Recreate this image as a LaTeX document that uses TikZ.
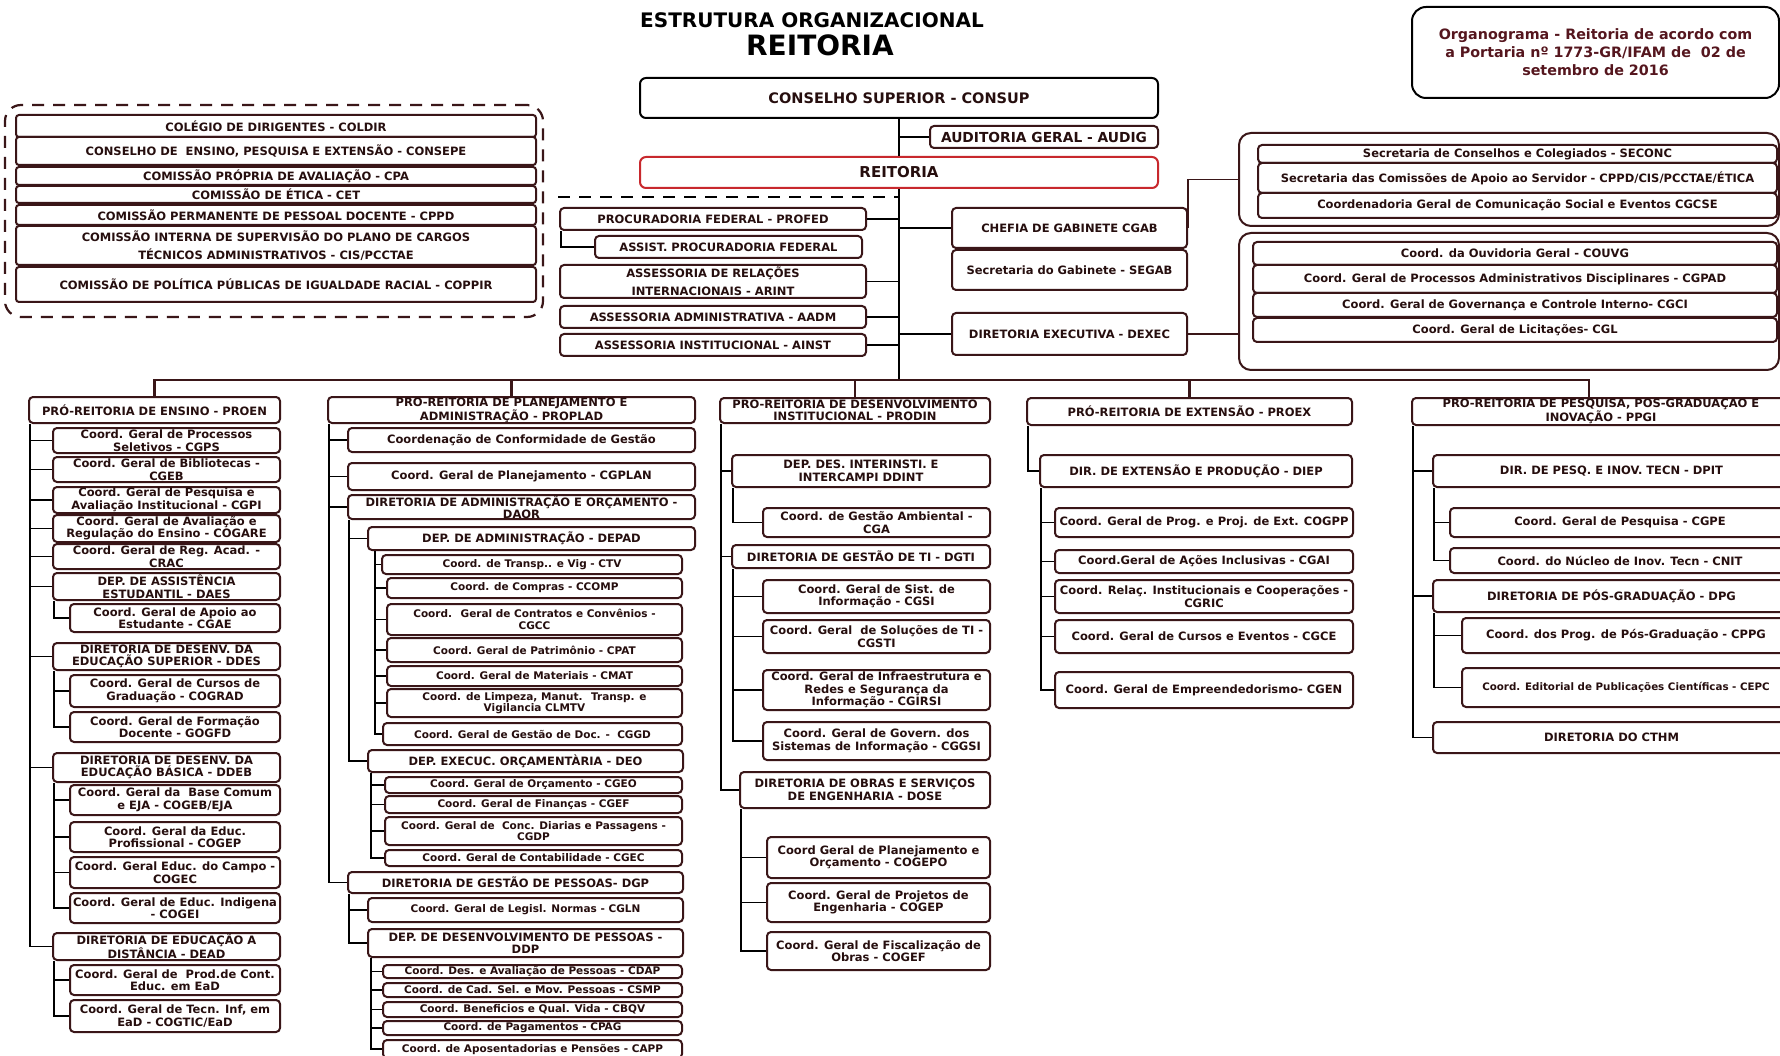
\documentclass[tikz,border=0pt]{standalone}
\usepackage{fontspec}
\setmainfont{DejaVu Sans}

\definecolor{boxline}{RGB}{58,22,24}
\definecolor{boxtext}{RGB}{38,14,14}
\definecolor{reitred}{RGB}{200,40,45}
\definecolor{orgtext}{RGB}{85,22,30}

\tikzset{
  spanbox/.style n args={4}{at={({(#1+#3)/2},{(#2+#4)/2})},
    minimum width={(#3-#1)*1pt}, minimum height={(#4-#2)*1pt}},
  orgbox/.style={draw=boxline, fill=white, line width=2pt, rounded corners=4pt,
    inner sep=0pt, align=center, text=boxtext, font=\bfseries\fontsize{11.5}{12.5}\selectfont},
  tinybox/.style={orgbox, font=\bfseries\fontsize{10.5}{11.5}\selectfont},
  secbox/.style={orgbox, font=\bfseries\fontsize{11.5}{12.5}\selectfont},
  conbox/.style={orgbox, rounded corners=3pt, font=\bfseries\fontsize{11.5}{18}\selectfont},
  grpbox/.style={draw=boxline, line width=2pt, rounded corners=12pt, inner sep=0pt},
  dashgrp/.style={draw=boxline, line width=2.2pt, rounded corners=16pt, inner sep=0pt,
    dash pattern=on 12pt off 9pt},
  link/.style={line width=1.9pt, draw=black},
  mainline/.style={line width=2.8pt, draw=black},
  busline/.style={line width=2.4pt, draw=boxline},
}

\begin{document}
\begin{tikzpicture}[x=1pt, y=-1pt]
    \useasboundingbox (0,0) rectangle (1780,1056);
    \fill[white] (0,0) rectangle (1780,1056);

    % Draw title and note
    \node[font=\bfseries\fontsize{20}{24}\selectfont] (title) at (812,20) {ESTRUTURA ORGANIZACIONAL};
    \node[font=\bfseries\fontsize{28}{32}\selectfont] (titleb) at (820,45) {REITORIA};
    \node[draw=black, line width=2pt, rounded corners=14pt, inner sep=0pt, align=center,
      text=orgtext, font=\bfseries\fontsize{14.3}{18}\selectfont, spanbox={1412}{7}{1779}{98}] (note)
      {Organograma - Reitoria de acordo com\\a Portaria nº 1773-GR/IFAM de \ 02 de\\setembro de 2016};

    % Draw nodes for the councils and commissions
    \node[dashgrp, spanbox={5}{105}{543}{317}] (colegiados) {};
    \node[conbox, spanbox={16}{115}{536}{137}] (coldir) {COLÉGIO DE DIRIGENTES - COLDIR};
    \node[conbox, spanbox={16}{137}{536}{165}] (consepe) {CONSELHO DE \ ENSINO, PESQUISA E EXTENSÃO - CONSEPE};
    \node[conbox, spanbox={16}{167}{536}{185}] (cpa) {COMISSÃO PRÓPRIA DE AVALIAÇÃO - CPA};
    \node[conbox, spanbox={16}{186}{536}{203}] (cet) {COMISSÃO DE ÉTICA - CET};
    \node[conbox, spanbox={16}{205}{536}{225}] (cppd) {COMISSÃO PERMANENTE DE PESSOAL DOCENTE - CPPD};
    \node[conbox, spanbox={16}{226}{536}{265}] (cis) {COMISSÃO INTERNA DE SUPERVISÃO DO PLANO DE CARGOS\\TÉCNICOS ADMINISTRATIVOS - CIS/PCCTAE};
    \node[conbox, spanbox={16}{267}{536}{302}] (coppir) {COMISSÃO DE POLÍTICA PÚBLICAS DE IGUALDADE RACIAL - COPPIR};

    % Draw nodes for the top of the chart
    \node[orgbox, draw=black, rounded corners=6pt, font=\bfseries\fontsize{14.5}{16}\selectfont,
      spanbox={640}{78}{1158}{118}] (consup) {CONSELHO SUPERIOR - CONSUP};
    \node[orgbox, font=\bfseries\fontsize{13.8}{15}\selectfont, spanbox={930}{126}{1158}{148}] (audig) {AUDITORIA GERAL - AUDIG};
    \node[orgbox, draw=reitred, rounded corners=6pt, font=\bfseries\fontsize{15}{17}\selectfont,
      spanbox={640}{157}{1158}{188}] (reit) {REITORIA};

    % Draw nodes for the advisory units
    \node[orgbox, spanbox={560}{208}{866}{230}] (profed) {PROCURADORIA FEDERAL - PROFED};
    \node[orgbox, spanbox={595}{236}{862}{258}] (assist) {ASSIST. PROCURADORIA FEDERAL};
    \node[orgbox, font=\bfseries\fontsize{11.5}{18}\selectfont, spanbox={560}{265}{866}{298}] (arint) {ASSESSORIA DE RELAÇÕES\\INTERNACIONAIS - ARINT};
    \node[orgbox, spanbox={560}{306}{866}{328}] (aadm) {ASSESSORIA ADMINISTRATIVA - AADM};
    \node[orgbox, spanbox={560}{334}{866}{356}] (ainst) {ASSESSORIA INSTITUCIONAL - AINST};
    \node[orgbox, spanbox={952}{208}{1187}{248}] (cgab) {CHEFIA DE GABINETE CGAB};
    \node[orgbox, spanbox={952}{250}{1187}{290}] (segab) {Secretaria do Gabinete - SEGAB};
    \node[orgbox, spanbox={952}{313}{1187}{355}] (dexec) {DIRETORIA EXECUTIVA - DEXEC};

    % Draw nodes for the two groups on the right
    \node[grpbox, spanbox={1239}{133}{1779}{226}] (grpa) {};
    \node[secbox, spanbox={1258}{145}{1777}{163}] (seconc) {Secretaria de Conselhos e Colegiados - SECONC};
    \node[secbox, spanbox={1258}{163}{1777}{193}] (secas) {Secretaria das Comissões de Apoio ao Servidor - CPPD/CIS/PCCTAE/ÉTICA};
    \node[secbox, spanbox={1258}{193}{1777}{218}] (cgcse) {Coordenadoria Geral de Comunicação Social e Eventos CGCSE};
    \node[grpbox, spanbox={1239}{233}{1779}{370}] (grpb) {};
    \node[secbox, spanbox={1253}{242}{1777}{265}] (couvg) {Coord. da Ouvidoria Geral - COUVG};
    \node[secbox, spanbox={1253}{265}{1777}{293}] (cgpad) {Coord. Geral de Processos Administrativos Disciplinares - CGPAD};
    \node[secbox, spanbox={1253}{293}{1777}{317}] (cgci) {Coord. Geral de Governança e Controle Interno- CGCI};
    \node[secbox, spanbox={1253}{318}{1777}{342}] (cgl) {Coord. Geral de Licitações- CGL};

    % Draw edges for the top of the chart
    \coordinate (bus) at (900,380);
    \coordinate (dashend) at (558,197);
    \draw[mainline] (consup.south) -- (reit.north);
    \draw[mainline] (reit.south) -- (reit.south |- bus);
    \draw[link] (audig.west -| consup.south) -- (audig.west);
    \draw[link, dash pattern=on 12pt off 9pt] (dashend) -- (dashend -| reit.south);
    \foreach \u in {profed,arint,aadm,ainst}
      \draw[link] (\u.east) -- (\u.east -| reit.south);
    \draw[link] ([xshift=2pt]profed.south west) |- (assist.west);
    \draw[link] (cgab.west -| reit.south) -- (cgab.west);
    \draw[link] (dexec.west -| reit.south) -- (dexec.west);
    \draw[link, draw=boxline] (cgab.east) |- (grpa.west);
    \draw[link, draw=boxline] (dexec.east) -- (dexec.east -| grpb.west);

    % Draw nodes for PROEN
    \node[orgbox, spanbox={29}{397}{280}{423}] (proen) {PRÓ-REITORIA DE ENSINO - PROEN};
    \node[orgbox, spanbox={53}{428}{280}{453}] (cgps) {Coord. Geral de Processos\\Seletivos - CGPS};
    \node[orgbox, spanbox={53}{457}{280}{482}] (cgeb) {Coord. Geral de Bibliotecas -\\CGEB};
    \node[orgbox, spanbox={53}{487}{280}{513}] (cgpi) {Coord. Geral de Pesquisa e\\Avaliação Institucional - CGPI};
    \node[orgbox, spanbox={53}{515}{280}{542}] (cogare) {Coord. Geral de Avaliação e\\Regulação do Ensino - COGARE};
    \node[orgbox, spanbox={53}{544}{280}{569}] (crac) {Coord. Geral de Reg. Acad. -\\CRAC};
    \node[orgbox, spanbox={53}{573}{280}{600}] (daes) {DEP. DE ASSISTÊNCIA\\ESTUDANTIL - DAES};
    \node[orgbox, spanbox={70}{604}{280}{632}] (cgae) {Coord. Geral de Apoio ao\\Estudante - CGAE};
    \node[orgbox, spanbox={53}{643}{280}{670}] (ddes) {DIRETORIA DE DESENV. DA\\EDUCAÇÃO SUPERIOR - DDES};
    \node[orgbox, spanbox={70}{675}{280}{707}] (cograd) {Coord. Geral de Cursos de\\Graduação - COGRAD};
    \node[orgbox, spanbox={70}{712}{280}{742}] (gogfd) {Coord. Geral de Formação\\Docente - GOGFD};
    \node[orgbox, spanbox={53}{753}{280}{782}] (ddeb) {DIRETORIA DE DESENV. DA\\EDUCAÇÃO BÁSICA - DDEB};
    \node[orgbox, spanbox={70}{785}{280}{815}] (cogeb) {Coord. Geral da \ Base Comum\\e EJA - COGEB/EJA};
    \node[orgbox, spanbox={70}{822}{280}{852}] (cogepr) {Coord. Geral da Educ.\\Profissional - COGEP};
    \node[orgbox, spanbox={70}{857}{280}{888}] (cogec) {Coord. Geral Educ. do Campo -\\COGEC};
    \node[orgbox, spanbox={70}{893}{280}{923}] (cogei) {Coord. Geral de Educ. Indigena\\- COGEI};
    \node[orgbox, spanbox={53}{933}{280}{960}] (dead) {DIRETORIA DE EDUCAÇÃO A\\DISTÂNCIA - DEAD};
    \node[orgbox, spanbox={70}{965}{280}{995}] (cgpce) {Coord. Geral de \ Prod.de Cont.\\Educ. em EaD};
    \node[orgbox, spanbox={70}{1000}{280}{1032}] (cogtic) {Coord. Geral de Tecn. Inf, em\\EaD - COGTIC/EaD};

    % Draw edges for PROEN
    \foreach \u in {cgps,cgeb,cgpi,cogare,crac,daes,ddes,ddeb,dead}
      \draw[link] ([xshift=2pt]proen.south west) |- (\u.west);
    \draw[link] ([xshift=2pt]daes.south west) |- (cgae.west);
    \foreach \u in {cograd,gogfd}
      \draw[link] ([xshift=2pt]ddes.south west) |- (\u.west);
    \foreach \u in {cogeb,cogepr,cogec,cogei}
      \draw[link] ([xshift=2pt]ddeb.south west) |- (\u.west);
    \foreach \u in {cgpce,cogtic}
      \draw[link] ([xshift=2pt]dead.south west) |- (\u.west);

    % Draw nodes for PROPLAD
    \node[orgbox, spanbox={328}{397}{695}{423}] (proplad) {PRO-REITORIA DE PLANEJAMENTO E\\ADMINISTRAÇÃO - PROPLAD};
    \node[orgbox, spanbox={348}{428}{695}{452}] (conform) {Coordenação de Conformidade de Gestão};
    \node[orgbox, spanbox={348}{463}{695}{490}] (cgplan) {Coord. Geral de Planejamento - CGPLAN};
    \node[orgbox, spanbox={348}{495}{695}{519}] (daor) {DIRETORIA DE ADMINISTRAÇÃO E ORÇAMENTO -\\DAOR};
    \node[orgbox, spanbox={368}{527}{695}{550}] (depad) {DEP. DE ADMINISTRAÇÃO - DEPAD};
    \node[tinybox, spanbox={382}{555}{682}{574}] (ctv) {Coord. de Transp.. e Vig - CTV};
    \node[tinybox, spanbox={387}{578}{682}{598}] (ccomp) {Coord. de Compras - CCOMP};
    \node[tinybox, spanbox={387}{604}{682}{635}] (cgcc) {Coord. \ Geral de Contratos e Convênios -\\CGCC};
    \node[tinybox, spanbox={387}{638}{682}{662}] (cpat) {Coord. Geral de Patrimônio - CPAT};
    \node[tinybox, spanbox={387}{666}{682}{686}] (cmat) {Coord. Geral de Materiais - CMAT};
    \node[tinybox, spanbox={387}{689}{682}{717}] (clmtv) {Coord. de Limpeza, Manut. \ Transp. e\\Vigilancia CLMTV};
    \node[tinybox, spanbox={383}{723}{682}{745}] (cggd) {Coord. Geral de Gestão de Doc. - \ CGGD};
    \node[orgbox, spanbox={368}{750}{683}{772}] (deo) {DEP. EXECUC. ORÇAMENTÀRIA - DEO};
    \node[tinybox, spanbox={385}{777}{682}{793}] (cgeo) {Coord. Geral de Orçamento - CGEO};
    \node[tinybox, spanbox={385}{796}{682}{813}] (cgef) {Coord. Geral de Finanças - CGEF};
    \node[tinybox, spanbox={385}{817}{682}{845}] (cgdp) {Coord. Geral de \ Conc. Diarias e Passagens -\\CGDP};
    \node[tinybox, spanbox={385}{850}{682}{866}] (cgec) {Coord. Geral de Contabilidade - CGEC};
    \node[orgbox, spanbox={348}{872}{683}{893}] (dgp) {DIRETORIA DE GESTÃO DE PESSOAS- DGP};
    \node[tinybox, spanbox={368}{898}{683}{922}] (cgln) {Coord. Geral de Legisl. Normas - CGLN};
    \node[orgbox, spanbox={368}{929}{683}{957}] (ddp) {DEP. DE DESENVOLVIMENTO DE PESSOAS -\\DDP};
    \node[tinybox, spanbox={383}{965}{682}{978}] (cdap) {Coord. Des. e Avaliação de Pessoas - CDAP};
    \node[tinybox, spanbox={383}{983}{682}{997}] (csmp) {Coord. de Cad. Sel. e Mov. Pessoas - CSMP};
    \node[tinybox, spanbox={383}{1002}{682}{1017}] (cbqv) {Coord. Beneficios e Qual. Vida - CBQV};
    \node[tinybox, spanbox={383}{1021}{682}{1035}] (cpag) {Coord. de Pagamentos - CPAG};
    \node[tinybox, spanbox={383}{1040}{682}{1058}] (capp) {Coord. de Aposentadorias e Pensões - CAPP};

    % Draw edges for PROPLAD
    \foreach \u in {conform,cgplan,daor,dgp}
      \draw[link] ([xshift=2pt]proplad.south west) |- (\u.west);
    \foreach \u in {depad,deo}
      \draw[link] ([xshift=2pt]daor.south west) |- (\u.west);
    \foreach \u in {ctv,ccomp,cgcc,cpat,cmat,clmtv,cggd}
      \draw[link] ([xshift=8pt]depad.south west) |- (\u.west);
    \foreach \u in {cgeo,cgef,cgdp,cgec}
      \draw[link] ([xshift=4pt]deo.south west) |- (\u.west);
    \foreach \u in {cgln,ddp}
      \draw[link] ([xshift=2pt]dgp.south west) |- (\u.west);
    \foreach \u in {cdap,csmp,cbqv,cpag,capp}
      \draw[link] ([xshift=4pt]ddp.south west) |- (\u.west);

    % Draw nodes for PRODIN
    \node[orgbox, spanbox={720}{398}{990}{423}] (prodin) {PRO-REITORIA DE DESENVOLVIMENTO\\INSTITUCIONAL - PRODIN};
    \node[orgbox, spanbox={732}{455}{990}{487}] (ddint) {DEP. DES. INTERINSTI. E\\INTERCAMPI DDINT};
    \node[orgbox, spanbox={763}{508}{990}{537}] (cga) {Coord. de Gestão Ambiental -\\CGA};
    \node[orgbox, spanbox={732}{545}{990}{568}] (dgti) {DIRETORIA DE GESTÃO DE TI - DGTI};
    \node[orgbox, spanbox={763}{580}{990}{613}] (cgsi) {Coord. Geral de Sist. de\\Informação - CGSI};
    \node[orgbox, spanbox={763}{620}{990}{653}] (cgsti) {Coord. Geral \ de Soluções de TI -\\CGSTI};
    \node[orgbox, spanbox={763}{670}{990}{710}] (cgirsi) {Coord. Geral de Infraestrutura e\\Redes e Segurança da\\Informação - CGIRSI};
    \node[orgbox, spanbox={763}{722}{990}{760}] (cggsi) {Coord. Geral de Govern. dos\\Sistemas de Informação - CGGSI};
    \node[orgbox, spanbox={740}{772}{990}{808}] (dose) {DIRETORIA DE OBRAS E SERVIÇOS\\DE ENGENHARIA - DOSE};
    \node[orgbox, spanbox={767}{837}{990}{878}] (cogepo) {Coord Geral de Planejamento e\\Orçamento - COGEPO};
    \node[orgbox, spanbox={767}{883}{990}{922}] (cogepe) {Coord. Geral de Projetos de\\Engenharia - COGEP};
    \node[orgbox, spanbox={767}{932}{990}{970}] (cogef) {Coord. Geral de Fiscalização de\\Obras - COGEF};

    % Draw edges for PRODIN
    \foreach \u in {ddint,dgti,dose}
      \draw[link] ([xshift=2pt]prodin.south west) |- (\u.west);
    \draw[link] ([xshift=2pt]ddint.south west) |- (cga.west);
    \foreach \u in {cgsi,cgsti,cgirsi,cggsi}
      \draw[link] ([xshift=2pt]dgti.south west) |- (\u.west);
    \foreach \u in {cogepo,cogepe,cogef}
      \draw[link] ([xshift=2pt]dose.south west) |- (\u.west);

    % Draw nodes for PROEX
    \node[orgbox, spanbox={1027}{398}{1352}{425}] (proex) {PRÓ-REITORIA DE EXTENSÃO - PROEX};
    \node[orgbox, spanbox={1040}{455}{1352}{487}] (diep) {DIR. DE EXTENSÃO E PRODUÇÃO - DIEP};
    \node[orgbox, spanbox={1055}{508}{1353}{537}] (cogpp) {Coord. Geral de Prog. e Proj. de Ext. COGPP};
    \node[orgbox, spanbox={1055}{550}{1353}{573}] (cgai) {Coord.Geral de Ações Inclusivas - CGAI};
    \node[orgbox, spanbox={1055}{580}{1353}{613}] (cgric) {Coord. Relaç. Institucionais e Cooperações -\\CGRIC};
    \node[orgbox, spanbox={1055}{620}{1353}{653}] (cgce) {Coord. Geral de Cursos e Eventos - CGCE};
    \node[orgbox, spanbox={1055}{672}{1353}{708}] (cgen) {Coord. Geral de Empreendedorismo- CGEN};

    % Draw edges for PROEX
    \draw[link] ([xshift=2pt]proex.south west) |- (diep.west);
    \foreach \u in {cogpp,cgai,cgric,cgce,cgen}
      \draw[link] ([xshift=2pt]diep.south west) |- (\u.west);

    % Draw nodes for PPGI
    \node[orgbox, spanbox={1412}{398}{1790}{425}] (ppgi) {PRO-REITORIA DE PESQUISA, POS-GRADUAÇAO E\\INOVAÇÃO - PPGI};
    \node[orgbox, spanbox={1433}{455}{1790}{487}] (dpit) {DIR. DE PESQ. E INOV. TECN - DPIT};
    \node[orgbox, spanbox={1450}{508}{1790}{537}] (cgpe) {Coord. Geral de Pesquisa - CGPE};
    \node[orgbox, spanbox={1450}{548}{1790}{573}] (cnit) {Coord. do Núcleo de Inov. Tecn - CNIT};
    \node[orgbox, spanbox={1433}{580}{1790}{612}] (dpg) {DIRETORIA DE PÓS-GRADUAÇÃO - DPG};
    \node[orgbox, spanbox={1462}{618}{1790}{653}] (cppg) {Coord. dos Prog. de Pós-Graduação - CPPG};
    \node[orgbox, font=\bfseries\fontsize{10.3}{12}\selectfont, spanbox={1462}{668}{1790}{707}] (cepc) {Coord. Editorial de Publicações Científicas - CEPC};
    \node[orgbox, spanbox={1433}{722}{1790}{753}] (cthm) {DIRETORIA DO CTHM};

    % Draw edges for PPGI
    \foreach \u in {dpit,dpg,cthm}
      \draw[link] ([xshift=2pt]ppgi.south west) |- (\u.west);
    \foreach \u in {cgpe,cnit}
      \draw[link] ([xshift=2pt]dpit.south west) |- (\u.west);
    \foreach \u in {cppg,cepc}
      \draw[link] ([xshift=2pt]dpg.south west) |- (\u.west);

    % Draw the bus to the pro-rectorates
    \draw[busline] (proen.north) |- (bus) -| ([xshift=-12pt]ppgi.north);
    \foreach \u in {proplad,prodin,proex}
      \draw[busline] (\u.north) -- (\u.north |- bus);
\end{tikzpicture}
\end{document}
